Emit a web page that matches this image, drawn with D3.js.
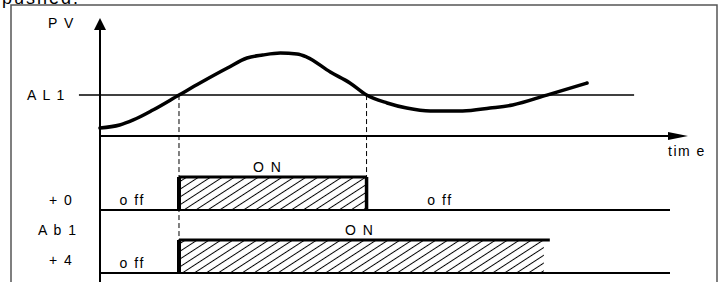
<!DOCTYPE html>
<html>
<head>
<meta charset="utf-8">
<script src="https://cdn.jsdelivr.net/npm/d3@7"></script>
<style>
  body { margin: 0; background: #fff; }
  text { font-family: "Liberation Sans", Arial, sans-serif; }
</style>
</head>
<body>
<div id="chart"></div>
<script>
// process value over time (seconds, arbitrary units)
const time = [0, 2, 3.4, 5.4, 8.06, 10.2, 13, 15, 16.6, 18.4, 20.1, 21.1, 23.5, 25.5, 27.2, 29.3, 31.3, 33.7, 37, 39.8, 42.1, 45.6, 49.7];
const pv   = [6.8, 9.3, 13.6, 22, 34.7, 44.9, 57.6, 66.1, 68.6, 70.3, 69.5, 66.9, 54.2, 44.9, 34.7, 28, 23.7, 21.2, 21.2, 23.7, 26.3, 34.7, 44.9];
const alarmLevel = 34.7;
const alarmLabel = "A L 1";

// alarm outputs
const outputNames = ["+ 0", "+ 4"];
const onStart = [8.06, 8.06];
const onEnd = [27.2, 45.9];
const offLabelAt = [[2.0, 33.4], [2.0]];
const onLabelAt = [15.6, 25.0];
const outputGroup = "A b 1";

const svgWidth = 727, svgHeight = 282;
const svg = d3.select("#chart").append("svg")
    .attr("width", svgWidth)
    .attr("height", svgHeight);

const x = d3.scaleLinear().domain([0, 60]).range([100, 688]);
const y = d3.scaleLinear().domain([0, 100]).range([136, 18]);

const laneBase = [210, 273];
const barH = 33;

// hatch pattern
const defs = svg.append("defs");
const pat = defs.append("pattern")
    .attr("id", "hatch")
    .attr("patternUnits", "userSpaceOnUse")
    .attr("width", 10)
    .attr("height", 6.5)
    .attr("patternTransform", "rotate(-33)");
pat.append("line")
    .attr("x1", 0).attr("x2", 10)
    .attr("y1", 3.25).attr("y2", 3.25)
    .attr("stroke", "#000").attr("stroke-width", 1);

// cut off text above the frame
svg.append("text")
    .attr("x", 2).attr("y", 4)
    .attr("font-size", 18)
    .attr("letter-spacing", 2)
    .text("pushed.");

// frame
svg.append("rect")
    .attr("x", 11).attr("y", 5)
    .attr("width", 706).attr("height", 300)
    .attr("fill", "none")
    .attr("stroke", "#555")
    .attr("stroke-width", 1.5);

// alarm level line
svg.append("line")
    .attr("x1", x(-2.15)).attr("x2", x(54.5))
    .attr("y1", y(alarmLevel)).attr("y2", y(alarmLevel))
    .attr("stroke", "#000").attr("stroke-width", 1.5);

// dashed switch lines
const switchTimes = [onStart[0], onEnd[0]];
const switchBottom = [laneBase[1] - barH, laneBase[0] - barH];
svg.selectAll(".switch").data(switchTimes).join("line")
    .attr("class", "switch")
    .attr("x1", d => x(d)).attr("x2", d => x(d))
    .attr("y1", y(alarmLevel))
    .attr("y2", (d, i) => switchBottom[i])
    .attr("stroke", "#000").attr("stroke-width", 1)
    .attr("stroke-dasharray", "5,3");

// axes
svg.append("line")
    .attr("x1", x(0)).attr("x2", x(0))
    .attr("y1", 26).attr("y2", svgHeight)
    .attr("stroke", "#000").attr("stroke-width", 2);
svg.append("path")
    .attr("d", `M${x(0)},18 L${x(0) - 6},30 L${x(0) + 6},30 Z`)
    .attr("fill", "#000");
svg.append("line")
    .attr("x1", x(0)).attr("x2", 675)
    .attr("y1", y(0)).attr("y2", y(0))
    .attr("stroke", "#000").attr("stroke-width", 2);
svg.append("path")
    .attr("d", `M688,${y(0)} L668,${y(0) - 4} L668,${y(0) + 4} Z`)
    .attr("fill", "#000");

// pv curve
const line = d3.line()
    .x((d, i) => x(time[i]))
    .y(d => y(d))
    .curve(d3.curveMonotoneX);
svg.append("path")
    .datum(pv)
    .attr("d", line)
    .attr("fill", "none")
    .attr("stroke", "#000")
    .attr("stroke-width", 3.5)
    .attr("stroke-linecap", "round");

// output lanes
outputNames.forEach((name, i) => {
    const base = laneBase[i];
    const top = base - barH;
    svg.append("line")
        .attr("x1", x(0)).attr("x2", 670)
        .attr("y1", base).attr("y2", base)
        .attr("stroke", "#000").attr("stroke-width", 2);
    const hatchEnd = i === 1 ? x(onEnd[i]) - 6 : x(onEnd[i]);
    svg.append("rect")
        .attr("x", x(onStart[i])).attr("y", top)
        .attr("width", hatchEnd - x(onStart[i]))
        .attr("height", barH)
        .attr("fill", "url(#hatch)");
    svg.append("line")
        .attr("x1", x(onStart[i])).attr("x2", x(onEnd[i]))
        .attr("y1", top).attr("y2", top)
        .attr("stroke", "#000").attr("stroke-width", 3);
    svg.append("line")
        .attr("x1", x(onStart[i])).attr("x2", x(onStart[i]))
        .attr("y1", top).attr("y2", base)
        .attr("stroke", "#000").attr("stroke-width", 4);
    if (i === 0) {
        svg.append("line")
            .attr("x1", x(onEnd[i])).attr("x2", x(onEnd[i]))
            .attr("y1", top).attr("y2", base)
            .attr("stroke", "#000").attr("stroke-width", 3.5);
    }
    svg.append("text")
        .attr("x", 49).attr("y", base - (i === 0 ? 5 : 8))
        .attr("font-size", 14).attr("letter-spacing", 1.5)
        .text(name);
    offLabelAt[i].forEach(t => {
        svg.append("text")
            .attr("x", x(t)).attr("y", base - (i === 0 ? 5 : 5))
            .attr("font-size", 14).attr("letter-spacing", 1.5)
            .text("o ff");
    });
    svg.append("text")
        .attr("x", x(onLabelAt[i])).attr("y", top - 5)
        .attr("font-size", 14).attr("letter-spacing", 1.5)
        .text("O N");
});

// labels
svg.append("text")
    .attr("x", 38).attr("y", 235)
    .attr("font-size", 14).attr("letter-spacing", 1.5)
    .text(outputGroup);
svg.append("text")
    .attr("x", 48).attr("y", 28)
    .attr("font-size", 14).attr("letter-spacing", 1.5)
    .text("P V");
svg.append("text")
    .attr("x", 27).attr("y", 100)
    .attr("font-size", 14).attr("letter-spacing", 1.5)
    .text(alarmLabel);
svg.append("text")
    .attr("x", 668).attr("y", 156)
    .attr("font-size", 14).attr("letter-spacing", 1.5)
    .text("tim e");
</script>
</body>
</html>
